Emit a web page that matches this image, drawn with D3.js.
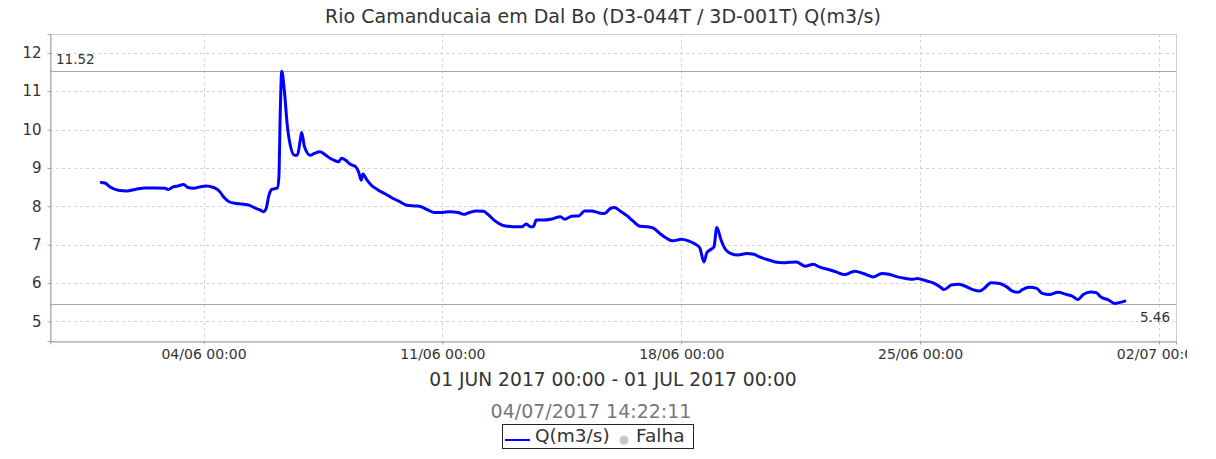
<!DOCTYPE html>
<html>
<head>
<meta charset="utf-8">
<script src="https://cdn.jsdelivr.net/npm/d3@7"></script>
<style>
  html, body { margin: 0; padding: 0; background: #fff; }
  svg { display: block; font-family: "DejaVu Sans", sans-serif; }
</style>
</head>
<body>
<svg id="chart" width="1216" height="459"></svg>
<script>
// Station flow series: hours after 01/06/2017 00:00 and discharge in m3/s
const startTime = new Date(2017, 5, 1, 0, 0);
const hours = [0, 3, 6, 12, 18, 24, 31, 38, 45, 47, 51, 54, 58, 61, 65, 70, 74, 79, 83, 86,
  90, 94, 99, 104, 108, 112, 114, 116, 118, 120, 124, 125, 126, 127, 129, 131, 133, 136, 138, 140,
  141, 143, 147, 150, 154, 158, 161, 165, 167, 169, 172, 175, 179, 181, 183, 184, 187, 190, 195, 200,
  204, 209, 215, 221, 225, 229, 234, 240, 245, 251, 255, 259, 264, 269, 272, 277, 282, 286, 290, 296,
  299, 302, 304, 306, 311, 317, 323, 326, 331, 336, 340, 345, 350, 354, 358, 361, 365, 370, 374, 379,
  384, 388, 393, 398, 402, 408, 413, 418, 421, 424, 426, 429, 431, 433, 436, 439, 443, 448, 454, 459,
  463, 468, 474, 480, 484, 489, 495, 501, 505, 511, 517, 523, 530, 536, 543, 549, 554, 560, 566, 571,
  574, 580, 586, 590, 593, 598, 603, 607, 613, 618, 621, 626, 632, 637, 641, 645, 648, 653, 658, 662,
  667, 673, 679, 683, 687, 691, 696, 700, 703, 708, 713, 716, 720];
const flow = [8.62, 8.60, 8.51, 8.42, 8.40, 8.44, 8.48, 8.48, 8.47, 8.44, 8.51, 8.53, 8.57, 8.49, 8.47, 8.51, 8.53, 8.49, 8.40, 8.25,
  8.12, 8.08, 8.06, 8.03, 7.96, 7.90, 7.86, 7.94, 8.29, 8.44, 8.48, 8.77, 10.51, 11.52, 10.94, 10.07, 9.59, 9.33, 9.33, 9.72,
  9.92, 9.55, 9.33, 9.38, 9.42, 9.33, 9.25, 9.18, 9.16, 9.25, 9.20, 9.10, 9.03, 8.90, 8.68, 8.84, 8.68, 8.55, 8.42, 8.32,
  8.23, 8.14, 8.03, 8.01, 7.99, 7.92, 7.84, 7.84, 7.86, 7.84, 7.79, 7.84, 7.88, 7.87, 7.79, 7.62, 7.51, 7.48, 7.47, 7.47,
  7.54, 7.47, 7.47, 7.64, 7.64, 7.67, 7.73, 7.66, 7.74, 7.75, 7.88, 7.88, 7.83, 7.81, 7.94, 7.97, 7.88, 7.75, 7.62, 7.48,
  7.47, 7.44, 7.29, 7.16, 7.10, 7.14, 7.10, 7.01, 6.92, 6.55, 6.79, 6.88, 6.94, 7.45, 7.12, 6.88, 6.77, 6.73, 6.77, 6.75,
  6.68, 6.62, 6.55, 6.53, 6.54, 6.55, 6.44, 6.49, 6.42, 6.36, 6.29, 6.22, 6.31, 6.25, 6.16, 6.25, 6.23, 6.16, 6.12, 6.10,
  6.12, 6.06, 5.99, 5.90, 5.83, 5.95, 5.97, 5.93, 5.83, 5.79, 5.86, 6.01, 5.99, 5.90, 5.79, 5.76, 5.83, 5.89, 5.86, 5.73,
  5.70, 5.76, 5.70, 5.66, 5.57, 5.71, 5.77, 5.75, 5.64, 5.57, 5.47, 5.49, 5.53];

const yTicks = [5, 6, 7, 8, 9, 10, 11, 12];
const xTickDates = ["2017-06-04", "2017-06-11", "2017-06-18", "2017-06-25", "2017-07-02"];
const maxFlow = 11.52;
const minFlow = 5.46;

const titleText = "Rio Camanducaia em Dal Bo (D3-044T / 3D-001T) Q(m3/s)";
const periodText = "01 JUN 2017 00:00 - 01 JUL 2017 00:00";
const stampText = "04/07/2017 14:22:11";
const seriesName = "Q(m3/s)";
const failName = "Falha";

const svg = d3.select("#chart");
const plot = { left: 50, top: 34, right: 1176, bottom: 341 };

const x = d3.scaleTime()
  .domain([new Date(2017, 4, 30, 12), new Date(2017, 6, 2, 12)])
  .range([plot.left, plot.right]);
const y = d3.scaleLinear()
  .domain([4.49, 12.49])
  .range([plot.bottom, plot.top]);

const data = hours.map((h, i) => ({ t: d3.timeHour.offset(startTime, h), v: flow[i] }));
const parseDay = d3.timeParse("%Y-%m-%d");
const xTicks = xTickDates.map(parseDay);

// grid
const grid = svg.append("g");
grid.selectAll("line.h").data(yTicks).join("line")
  .attr("x1", plot.left).attr("x2", plot.right)
  .attr("y1", d => Math.round(y(d)) + 0.5).attr("y2", d => Math.round(y(d)) + 0.5)
  .attr("stroke", "#d4d4d4").attr("stroke-dasharray", "3,3");
grid.selectAll("line.v").data(xTicks).join("line")
  .attr("y1", plot.top).attr("y2", plot.bottom)
  .attr("x1", d => Math.round(x(d)) + 0.5).attr("x2", d => Math.round(x(d)) + 0.5)
  .attr("stroke", "#d4d4d4").attr("stroke-dasharray", "3,3");

// frame
svg.append("rect")
  .attr("x", plot.left + 0.5).attr("y", plot.top + 0.5)
  .attr("width", plot.right - plot.left).attr("height", plot.bottom - plot.top)
  .attr("fill", "none").attr("stroke", "#cfcfcf");

// clip for tick labels running past the chart edge
svg.append("defs").append("clipPath").attr("id", "win")
  .append("rect").attr("x", 0).attr("y", -400).attr("width", 1187).attr("height", 900);

// axes
const yAxis = d3.axisLeft(y).tickValues(yTicks).tickSize(3).tickPadding(6).tickFormat(d3.format("d"));
const gy = svg.append("g").attr("transform", `translate(${plot.left + 0.5},0)`).call(yAxis);
gy.select(".domain").attr("stroke", "#a0a0a0");
gy.selectAll(".tick line").attr("stroke", "#a0a0a0");
gy.selectAll("text").attr("fill", "#333").style("font-size", "15px").style("font-family", "DejaVu Sans");

const xAxis = d3.axisBottom(x).tickValues(xTicks).tickSize(3).tickPadding(5)
  .tickFormat(d3.timeFormat("%d/%m %H:%M"));
const gx = svg.append("g").attr("transform", `translate(0,${plot.bottom + 0.5})`)
  .attr("clip-path", "url(#win)").call(xAxis);
gx.select(".domain").attr("stroke", "#a0a0a0");
gx.selectAll(".tick line").attr("stroke", "#a0a0a0");
gx.selectAll("text").attr("fill", "#333").style("font-size", "14px").style("font-family", "DejaVu Sans");

// max / min markers
const marks = svg.append("g");
[maxFlow, minFlow].forEach(v => {
  marks.append("line")
    .attr("x1", plot.left).attr("x2", plot.right)
    .attr("y1", Math.round(y(v)) + 0.5).attr("y2", Math.round(y(v)) + 0.5)
    .attr("stroke", "#a8a8a8");
});
marks.append("text").attr("x", plot.left + 6).attr("y", y(maxFlow) - 7.5)
  .attr("fill", "#333").style("font-size", "13.5px").text(maxFlow.toFixed(2));
marks.append("text").attr("x", plot.right - 6).attr("y", y(minFlow) + 18)
  .attr("text-anchor", "end").attr("fill", "#333").style("font-size", "13.5px").text(minFlow.toFixed(2));

// series
const line = d3.line().x(d => x(d.t)).y(d => y(d.v)).curve(d3.curveMonotoneX);
svg.append("path").datum(data)
  .attr("d", line).attr("fill", "none")
  .attr("stroke", "#0000ff").attr("stroke-width", 3)
  .attr("stroke-linejoin", "round").attr("stroke-linecap", "round");

// titles
svg.append("text").attr("x", 603).attr("y", 23).attr("text-anchor", "middle")
  .attr("fill", "#333").style("font-size", "19px").text(titleText);
svg.append("text").attr("x", 613).attr("y", 386).attr("text-anchor", "middle")
  .attr("fill", "#333").style("font-size", "18.7px").text(periodText);
svg.append("text").attr("x", 591).attr("y", 418).attr("text-anchor", "middle")
  .attr("fill", "#777").style("font-size", "19px").text(stampText);

// legend
const lg = svg.append("g");
lg.append("rect").attr("x", 502.5).attr("y", 424.5).attr("width", 191).attr("height", 24)
  .attr("fill", "#fff").attr("stroke", "#222");
lg.append("line").attr("x1", 505).attr("x2", 530).attr("y1", 440).attr("y2", 440)
  .attr("stroke", "#0000ff").attr("stroke-width", 2);
lg.append("text").attr("x", 535).attr("y", 442).attr("fill", "#333")
  .style("font-size", "18.5px").text(seriesName);
lg.append("circle").attr("cx", 624).attr("cy", 440).attr("r", 4.5).attr("fill", "#c8c8c8");
lg.append("text").attr("x", 636).attr("y", 442).attr("fill", "#333")
  .style("font-size", "18.5px").text(failName);
</script>
</body>
</html>
